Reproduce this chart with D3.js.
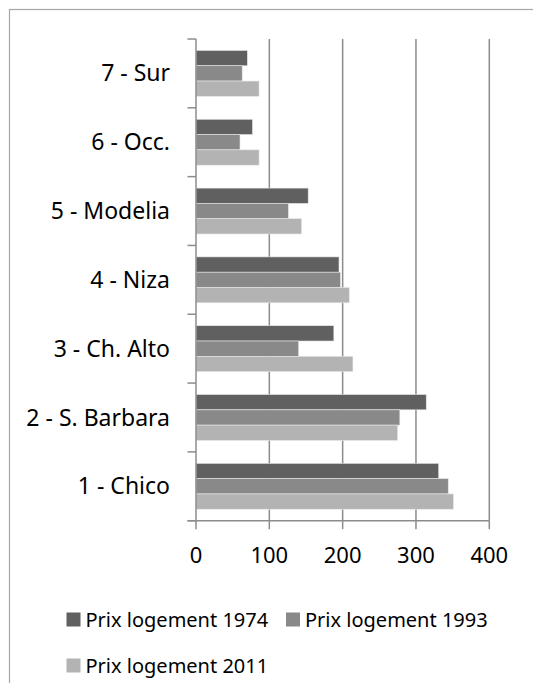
<!DOCTYPE html>
<html>
<head>
<meta charset="utf-8">
<script src="https://cdn.jsdelivr.net/npm/d3@7"></script>
<style>
  body { margin: 0; background: #fff; }
  svg { display: block; font-family: "Noto Sans", sans-serif; }
</style>
</head>
<body>
<div id="chart"></div>
<script>
// categories listed from bottom (1) to top (7), as in the sheet
const categories = ["1 - Chico", "2 - S. Barbara", "3 - Ch. Alto", "4 - Niza", "5 - Modelia", "6 - Occ.", "7 - Sur"];
const seriesNames = ["Prix logement 1974", "Prix logement 1993", "Prix logement 2011"];
const prix1974 = [331, 314, 188, 195, 153, 77, 70];
const prix1993 = [344, 278, 140, 197, 126, 60, 63];
const prix2011 = [351, 275, 214, 209, 144, 86, 86];
const xTicks = [0, 100, 200, 300, 400];

const colors = ["#606060", "#898989", "#b3b3b3"];
const gridStroke = "#8c8c8c";

const width = 533, height = 683;

const svg = d3.select("#chart").append("svg")
    .attr("width", width)
    .attr("height", height);

// chart area frame (runs off the right and bottom edges)
svg.append("rect")
    .attr("x", 9.5).attr("y", 9.5)
    .attr("width", width + 20).attr("height", height + 20)
    .attr("fill", "#fff")
    .attr("stroke", "#a6a6a6")
    .attr("stroke-width", 1.2);

const plot = { left: 196, right: 489.3, top: 39, bottom: 520.7 };

const x = d3.scaleLinear()
    .domain([0, 400])
    .range([plot.left, plot.right]);

const y = d3.scaleBand()
    .domain(categories.slice().reverse())
    .range([plot.top, plot.bottom])
    .paddingInner(1 / 3)
    .paddingOuter(1 / 6);

const ySub = d3.scaleBand()
    .domain(seriesNames)
    .range([0, y.bandwidth()]);

const step = y.step();

// vertical gridlines
svg.append("g")
    .selectAll("line")
    .data(xTicks.slice(1))
    .enter().append("line")
    .attr("x1", d => x(d)).attr("x2", d => x(d))
    .attr("y1", plot.top).attr("y2", plot.bottom)
    .attr("stroke", gridStroke)
    .attr("stroke-width", 1.5);

// bars
const rows = categories.map((c, i) => ({
    cat: c,
    vals: [prix1974[i], prix1993[i], prix2011[i]]
}));

const groups = svg.append("g")
    .selectAll("g")
    .data(rows)
    .enter().append("g")
    .attr("transform", d => `translate(0, ${y(d.cat)})`);

groups.selectAll("rect")
    .data(d => d.vals.map((v, j) => ({ name: seriesNames[j], value: v, j })))
    .enter().append("rect")
    .attr("x", x(0))
    .attr("y", d => ySub(d.name))
    .attr("width", d => x(d.value) - x(0))
    .attr("height", ySub.bandwidth())
    .attr("fill", d => colors[d.j])
    .attr("stroke", "#e6e6e6")
    .attr("stroke-width", 0.6);

// category axis line and tick marks
svg.append("line")
    .attr("x1", plot.left).attr("x2", plot.left)
    .attr("y1", plot.top).attr("y2", plot.bottom)
    .attr("stroke", gridStroke)
    .attr("stroke-width", 1.5);

const bandEdges = d3.range(categories.length + 1).map(i => plot.top + i * step);
svg.append("g")
    .selectAll("line")
    .data(bandEdges)
    .enter().append("line")
    .attr("x1", plot.left - 8.5).attr("x2", plot.left)
    .attr("y1", d => d).attr("y2", d => d)
    .attr("stroke", gridStroke)
    .attr("stroke-width", 1.5);

// value axis line and tick marks
svg.append("line")
    .attr("x1", plot.left - 8.5).attr("x2", plot.right)
    .attr("y1", plot.bottom).attr("y2", plot.bottom)
    .attr("stroke", gridStroke)
    .attr("stroke-width", 1.5);

svg.append("g")
    .selectAll("line")
    .data(xTicks)
    .enter().append("line")
    .attr("x1", d => x(d)).attr("x2", d => x(d))
    .attr("y1", plot.bottom).attr("y2", plot.bottom + 8.5)
    .attr("stroke", gridStroke)
    .attr("stroke-width", 1.5);

// value tick labels
svg.append("g")
    .selectAll("text")
    .data(xTicks)
    .enter().append("text")
    .attr("x", d => x(d))
    .attr("y", 555.5)
    .attr("dy", "0.35em")
    .attr("text-anchor", "middle")
    .attr("fill", "#000")
    .style("font-size", "22px")
    .text(d => d);

// category labels
svg.append("g")
    .selectAll("text")
    .data(categories)
    .enter().append("text")
    .attr("x", 170)
    .attr("y", d => y(d) + y.bandwidth() / 2)
    .attr("dy", "0.35em")
    .attr("text-anchor", "end")
    .attr("fill", "#000")
    .style("font-size", "23px")
    .text(d => d);

// legend
const legendPos = [
    { x: 66.5, y: 619.5 },
    { x: 286, y: 619.5 },
    { x: 66.5, y: 665.5 }
];
const legend = svg.append("g")
    .selectAll("g")
    .data(seriesNames)
    .enter().append("g")
    .attr("transform", (d, i) => `translate(${legendPos[i].x}, ${legendPos[i].y})`);

legend.append("rect")
    .attr("x", 0).attr("y", -7)
    .attr("width", 14).attr("height", 14)
    .attr("fill", (d, i) => colors[i]);

legend.append("text")
    .attr("x", 19)
    .attr("y", 0)
    .attr("dy", "0.35em")
    .attr("fill", "#000")
    .style("font-size", "20px")
    .text(d => d);
</script>
</body>
</html>
